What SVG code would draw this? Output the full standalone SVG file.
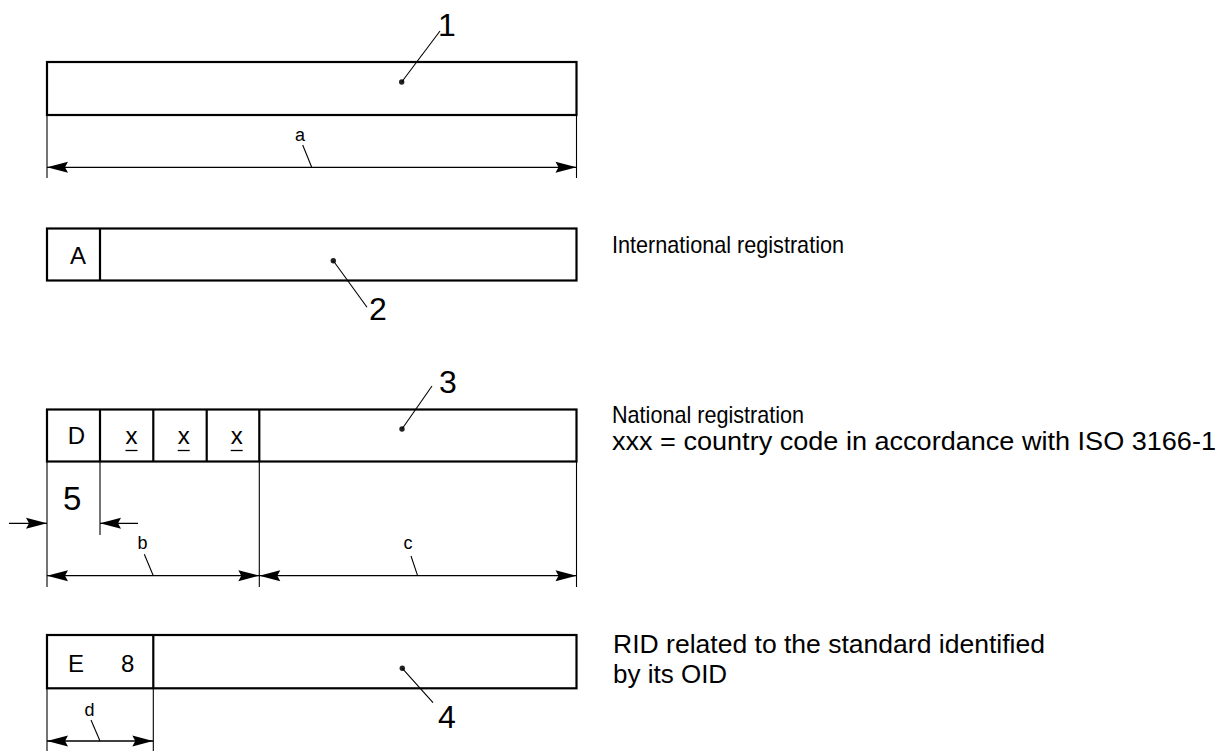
<svg xmlns="http://www.w3.org/2000/svg" width="1221" height="751" viewBox="0 0 1221 751">
<style>
.box{fill:none;stroke:#000;stroke-width:2.2}
.thin{fill:none;stroke:#000;stroke-width:1.1}
.dim{fill:none;stroke:#000;stroke-width:1.3}
.dot{fill:#222}
text{font-family:"Liberation Sans",Arial,sans-serif;fill:#000}
.num{font-size:32px}
.cell{font-size:24px;text-anchor:middle}
.lbl{font-size:18px;text-anchor:middle}
.desc{font-size:24px}
.desc2{font-size:26px}
</style>
<defs>
<marker id="arr" viewBox="-24 -6 24 12" refX="0" refY="0" markerWidth="24" markerHeight="12" markerUnits="userSpaceOnUse" orient="auto">
<path d="M0,0 L-21,-5.5 L-18,0 L-21,5.5 Z" fill="#000"/>
</marker>
<marker id="arrs" viewBox="-24 -6 24 12" refX="0" refY="0" markerWidth="24" markerHeight="12" markerUnits="userSpaceOnUse" orient="auto-start-reverse">
<path d="M0,0 L-21,-5.5 L-18,0 L-21,5.5 Z" fill="#000"/>
</marker>
</defs>

<g id="field1">
<rect class="box" x="47" y="62" width="529.5" height="53"/>
<circle class="dot" cx="401.7" cy="82" r="2.7"/>
<text class="num" x="438" y="36">1</text>
</g>

<g id="field2">
<rect class="box" x="47" y="228.5" width="529.5" height="52"/>
<line class="box" x1="100" y1="228.5" x2="100" y2="280.5"/>
<text class="cell" x="78" y="263.5">A</text>
<circle class="dot" cx="333.3" cy="260.7" r="2.7"/>
<text class="num" x="369" y="320">2</text>
</g>

<g id="field3">
<rect class="box" x="47" y="409.5" width="529.5" height="52"/>
<line class="box" x1="100" y1="409.5" x2="100" y2="461.5"/>
<line class="box" x1="153.3" y1="409.5" x2="153.3" y2="461.5"/>
<line class="box" x1="206.7" y1="409.5" x2="206.7" y2="461.5"/>
<line class="box" x1="259.3" y1="409.5" x2="259.3" y2="461.5"/>
<text class="cell" x="76.5" y="444">D</text>
<text class="cell" x="131.5" y="444">x</text>
<text class="cell" x="183.7" y="444">x</text>
<text class="cell" x="236.7" y="444">x</text>
<line class="dim" x1="125.5" y1="450.5" x2="137.5" y2="450.5" stroke-width="1.7"/>
<line class="dim" x1="177.7" y1="450.5" x2="189.7" y2="450.5" stroke-width="1.7"/>
<line class="dim" x1="230.7" y1="450.5" x2="242.7" y2="450.5" stroke-width="1.7"/>
<circle class="dot" cx="402" cy="429" r="2.7"/>
<text class="num" x="439" y="393">3</text>
<text class="num" x="63" y="510" style="font-size:33px">5</text>
</g>

<g id="field4">
<rect class="box" x="47" y="635" width="529.5" height="53.3"/>
<line class="box" x1="153.3" y1="635" x2="153.3" y2="688.3"/>
<text class="cell" x="76" y="671.7">E</text>
<text class="cell" x="127.7" y="671.7">8</text>
<circle class="dot" cx="402.3" cy="668.3" r="2.7"/>
<text class="num" x="438" y="728">4</text>
</g>

<g id="dimension-labels">
<text class="lbl" x="300" y="141">a</text>
<text class="lbl" x="142.5" y="549">b</text>
<text class="lbl" x="408" y="549">c</text>
<text class="lbl" x="89.5" y="716">d</text>
</g>

<g id="descriptions">
<text class="desc" x="612" y="253" textLength="232" lengthAdjust="spacingAndGlyphs">International registration</text>
<text class="desc" x="612" y="423" textLength="192" lengthAdjust="spacingAndGlyphs">National registration</text>
<text class="desc2" x="612" y="450" textLength="604" lengthAdjust="spacingAndGlyphs">xxx = country code in accordance with ISO 3166-1</text>
<text class="desc2" x="613" y="653" textLength="432" lengthAdjust="spacingAndGlyphs">RID related to the standard identified</text>
<text class="desc2" x="613" y="683">by its OID</text>
</g>

<g id="connectors">
<line class="thin" x1="401.7" y1="82" x2="440" y2="31"/>
<line class="thin" x1="333.3" y1="260.7" x2="367" y2="307.3"/>
<line class="thin" x1="402" y1="429" x2="432" y2="386"/>
<line class="thin" x1="402.3" y1="668.3" x2="433" y2="702.7"/>
<line class="thin" x1="302.7" y1="145" x2="311.7" y2="167.3"/>
<line class="thin" x1="144.3" y1="554.3" x2="153.3" y2="575.7"/>
<line class="thin" x1="411" y1="556" x2="417.6" y2="575.7"/>
<line class="thin" x1="91" y1="720" x2="100" y2="741"/>
<line class="thin" x1="47" y1="115" x2="47" y2="178"/>
<line class="thin" x1="576.5" y1="115" x2="576.5" y2="178"/>
<line class="thin" x1="47" y1="461.5" x2="47" y2="587"/>
<line class="thin" x1="100" y1="461.5" x2="100" y2="535"/>
<line class="thin" x1="259.3" y1="461.5" x2="259.3" y2="587"/>
<line class="thin" x1="576.5" y1="461.5" x2="576.5" y2="587"/>
<line class="thin" x1="47" y1="688.3" x2="47" y2="751"/>
<line class="thin" x1="153.3" y1="688.3" x2="153.3" y2="751"/>
<line class="dim" x1="47" y1="167.3" x2="576.5" y2="167.3" marker-start="url(#arrs)" marker-end="url(#arrs)"/>
<line class="dim" x1="47" y1="575.7" x2="259.3" y2="575.7" marker-start="url(#arrs)" marker-end="url(#arrs)"/>
<line class="dim" x1="259.3" y1="575.7" x2="576.5" y2="575.7" marker-start="url(#arrs)" marker-end="url(#arrs)"/>
<line class="dim" x1="47" y1="741" x2="153.3" y2="741" marker-start="url(#arrs)" marker-end="url(#arrs)"/>
<line class="dim" x1="9" y1="523.3" x2="47" y2="523.3" marker-end="url(#arr)"/>
<line class="dim" x1="138" y1="523.3" x2="100" y2="523.3" marker-end="url(#arr)"/>
</g>
</svg>
